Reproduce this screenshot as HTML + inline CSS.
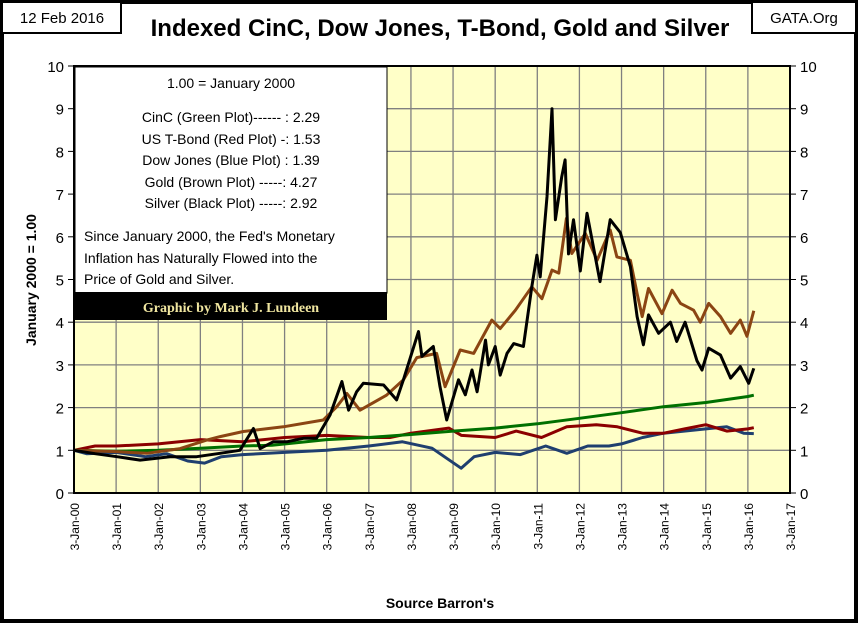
<!DOCTYPE html>
<html><head><meta charset="utf-8"><style>
body{margin:0;background:#fff;}
#wrap{position:relative;width:858px;height:623px;overflow:hidden;font-family:"Liberation Sans",sans-serif;}
</style></head><body>
<div id="wrap">
<svg id="chart" width="858" height="623" xmlns="http://www.w3.org/2000/svg">
<rect x="2" y="2" width="854" height="619" fill="#fff" stroke="#000" stroke-width="4"/>
<rect x="2" y="2" width="119" height="31" fill="#fff" stroke="#000" stroke-width="2"/>
<text x="62" y="23" font-size="15" text-anchor="middle">12 Feb 2016</text>
<rect x="752" y="2" width="104" height="31" fill="#fff" stroke="#000" stroke-width="2"/>
<text x="804" y="23" font-size="15" text-anchor="middle">GATA.Org</text>
<text x="440" y="36" font-size="24" font-weight="bold" text-anchor="middle">Indexed CinC, Dow Jones, T-Bond, Gold and Silver</text>
<rect x="74" y="66" width="716" height="427" fill="#FFFFC8"/>
<g id="grid"></g>
<g id="series"></g>
<rect x="74" y="66" width="716" height="427" fill="none" stroke="#000" stroke-width="2"/>
<g id="axes"></g>
<text transform="translate(36,280) rotate(-90)" font-size="14" font-weight="bold" text-anchor="middle">January 2000 = 1.00</text>
<text x="440" y="608" font-size="14" font-weight="bold" text-anchor="middle">Source Barron's</text>
<g>
<rect x="75" y="67" width="312" height="226" fill="#fff" stroke="#000" stroke-width="1"/>
<rect x="75" y="292" width="312" height="28" fill="#000"/>
<text x="231" y="88" font-size="14" text-anchor="middle">1.00 = January 2000</text>
<text x="231" y="122" font-size="14" text-anchor="middle">CinC (Green Plot)------ : 2.29</text>
<text x="231" y="144" font-size="14" text-anchor="middle">US T-Bond (Red Plot) -: 1.53</text>
<text x="231" y="165" font-size="14" text-anchor="middle">Dow Jones (Blue Plot) : 1.39</text>
<text x="231" y="187" font-size="14" text-anchor="middle">Gold (Brown Plot) -----: 4.27</text>
<text x="231" y="208" font-size="14" text-anchor="middle">Silver (Black Plot) -----: 2.92</text>
<text x="84" y="241" font-size="14">Since January 2000, the Fed's Monetary</text>
<text x="84" y="263" font-size="14">Inflation has Naturally Flowed into the</text>
<text x="84" y="284" font-size="14">Price of Gold and Silver.</text>
<text x="231" y="312" font-size="14" font-weight="bold" fill="#F0E6A0" text-anchor="middle" font-family="Liberation Serif,serif">Graphic by Mark J. Lundeen</text>
</g>
</svg>
</div>
<script>
const yTicks=[0,1,2,3,4,5,6,7,8,9,10];
const xTickLabels=["3-Jan-00","3-Jan-01","3-Jan-02","3-Jan-03","3-Jan-04","3-Jan-05","3-Jan-06","3-Jan-07","3-Jan-08","3-Jan-09","3-Jan-10","3-Jan-11","3-Jan-12","3-Jan-13","3-Jan-14","3-Jan-15","3-Jan-16","3-Jan-17"];
const silverT=[0,0.5,1.02,1.57,2.28,2.91,3.47,3.94,4.26,4.42,4.73,5.05,5.45,5.76,6.08,6.36,6.52,6.71,6.87,7.35,7.66,7.82,8.18,8.26,8.53,8.69,8.85,9.13,9.29,9.45,9.57,9.77,9.84,10.0,10.12,10.28,10.44,10.67,10.87,10.99,11.07,11.23,11.35,11.43,11.58,11.66,11.74,11.86,12.02,12.18,12.49,12.73,12.97,13.21,13.37,13.52,13.64,13.88,14.16,14.31,14.51,14.79,14.91,15.07,15.35,15.59,15.82,16.02,16.14];
const silverV=[1.0,0.92,0.85,0.77,0.85,0.85,0.93,1.0,1.51,1.04,1.2,1.2,1.28,1.28,1.83,2.61,1.94,2.37,2.57,2.53,2.18,2.65,3.78,3.2,3.43,2.49,1.71,2.65,2.3,2.88,2.37,3.58,3.0,3.43,2.76,3.27,3.5,3.43,4.83,5.57,5.06,6.94,9.0,6.4,7.4,7.8,5.6,6.4,5.2,6.55,4.95,6.4,6.1,5.3,4.13,3.47,4.17,3.74,4.0,3.55,4.0,3.1,2.88,3.39,3.23,2.69,2.96,2.57,2.92];
const goldT=[0,1,1.73,2.52,3.15,3.47,4.02,4.97,5.92,6.24,6.48,6.79,7.42,7.82,8.14,8.61,8.81,9.17,9.49,9.92,10.12,10.48,10.87,11.11,11.35,11.51,11.69,11.82,12.14,12.42,12.73,12.89,13.21,13.37,13.49,13.64,13.96,14.2,14.4,14.71,14.87,15.07,15.35,15.59,15.82,15.98,16.14];
const goldV=[1.0,0.97,0.93,1.04,1.24,1.32,1.44,1.55,1.71,2.02,2.33,1.94,2.29,2.65,3.17,3.27,2.49,3.35,3.27,4.05,3.85,4.28,4.83,4.55,5.22,5.15,6.43,5.61,6.08,5.45,6.16,5.53,5.45,4.67,4.13,4.79,4.2,4.75,4.44,4.28,4.0,4.44,4.13,3.74,4.05,3.67,4.27];
const bondT=[0,0.5,1,2,3,4,5,6,7,7.5,8,8.9,9.2,10,10.5,11.1,11.7,12.4,12.9,13.5,14,14.5,15,15.5,16,16.14];
const bondV=[1.0,1.1,1.1,1.15,1.25,1.2,1.3,1.35,1.3,1.3,1.4,1.52,1.35,1.3,1.45,1.3,1.55,1.6,1.55,1.4,1.4,1.5,1.6,1.45,1.5,1.53];
const dowT=[0,0.3,1,1.7,2.2,2.7,3.1,3.5,4,5,6,7,7.8,8.5,9.19,9.5,10,10.6,11.2,11.7,12.2,12.7,13,13.5,14,15,15.5,15.9,16.14];
const dowV=[1.0,0.92,0.95,0.85,0.92,0.75,0.7,0.85,0.9,0.95,1.0,1.1,1.2,1.05,0.58,0.85,0.95,0.9,1.1,0.93,1.1,1.1,1.15,1.3,1.4,1.5,1.55,1.4,1.39];
const cincT=[0,1,2,3,4,4.7,6,7,8,9,10,11,12,13,14,15,16,16.14];
const cincV=[1.0,0.98,1.0,1.05,1.1,1.12,1.25,1.3,1.37,1.45,1.52,1.62,1.75,1.88,2.02,2.12,2.26,2.29];

const X0=74,X1=790,Y0=493,Y1=66;
const xs=t=>X0+(X1-X0)*t/17;
const ys=v=>Y0-(Y0-Y1)*v/10;
const NS="http://www.w3.org/2000/svg";
const grid=document.getElementById('grid'),axes=document.getElementById('axes'),ser=document.getElementById('series');
function mk(tag,attrs,parent){const e=document.createElementNS(NS,tag);for(const k in attrs)e.setAttribute(k,attrs[k]);parent.appendChild(e);return e;}
yTicks.forEach(v=>{
  const y=ys(v);
  if(v>0&&v<10){const l=mk('line',{x1:X0,x2:X1,y1:y,y2:y,stroke:'#808080','stroke-width':1.3},grid);
  
  }
  const t1=mk('line',{x1:X0-6,x2:X0,y1:y,y2:y,stroke:'#000'},axes);
  
  
  const t2=mk('line',{x1:X1,x2:X1+6,y1:y,y2:y,stroke:'#000'},axes);
  
  
  const a=mk('text',{x:X0-10,y:y+6,'font-size':15,'text-anchor':'end'},axes);a.textContent=v;
  
  
  const b=mk('text',{x:X1+10,y:y+6,'font-size':15},axes);b.textContent=v;
  
  
});
xTickLabels.forEach((s,i)=>{
  const x=xs(i);
  if(i>0&&i<17){const l=mk('line',{x1:x,x2:x,y1:Y1,y2:Y0,stroke:'#808080','stroke-width':1.3},grid);
  
  }
  const t=mk('text',{transform:`translate(${x+5},503) rotate(-90)`,'font-size':12,'text-anchor':'end'},axes);t.textContent=s;
  
  
});
function line(T,V,color,w,name){
  const d=T.map((t,i)=>(i?'L':'M')+xs(t).toFixed(1)+','+ys(V[i]).toFixed(1)).join('');
  const p=mk('path',{d:d,fill:'none',stroke:color,'stroke-width':w,'stroke-linejoin':'round'},ser);
  
  
}
line(dowT,dowV,'#1F3F6F',3,'dow-jones-line');
line(bondT,bondV,'#8B0000',3,'tbond-line');
line(cincT,cincV,'#007000',3,'cinc-line');
line(goldT,goldV,'#8B4513',3,'gold-line');
line(silverT,silverV,'#000',3,'silver-line');
</script>
</body></html>
